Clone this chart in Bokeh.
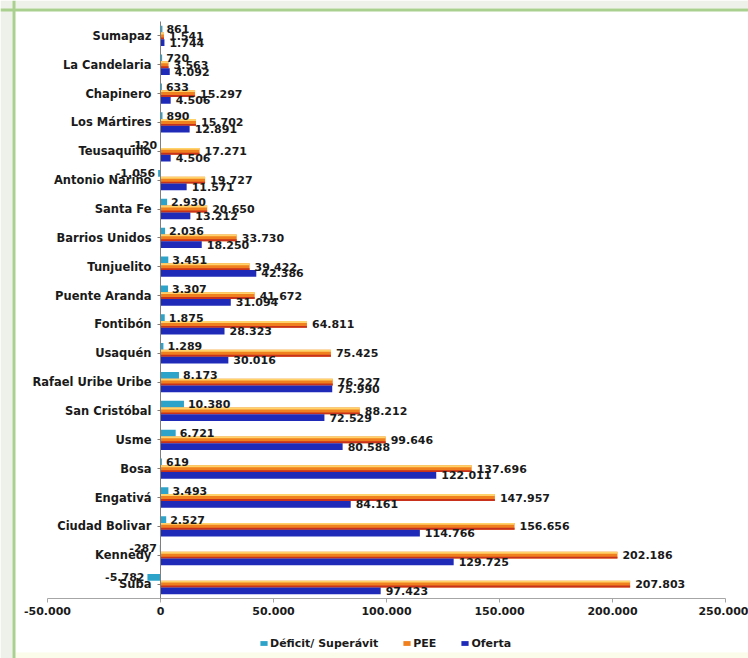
from bokeh.plotting import figure
from bokeh.models import (ColumnDataSource, Range1d, FixedTicker, BoxAnnotation, Span,
                          CustomJSTickFormatter, Legend, LegendItem)
from bokeh.transform import dodge
from bokeh.core.properties import value
from bokeh.embed import file_html
from bokeh.resources import INLINE

districts = ["Sumapaz", "La Candelaria", "Chapinero", "Los Mártires", "Teusaquillo",
             "Antonio Nariño", "Santa Fe", "Barrios Unidos", "Tunjuelito", "Puente Aranda",
             "Fontibón", "Usaquén", "Rafael Uribe Uribe", "San Cristóbal", "Usme",
             "Bosa", "Engativá", "Ciudad Bolivar", "Kennedy", "Suba"]
deficit = [861, 720, 633, 890, -120, -1056, 2930, 2036, 3451, 3307,
           1875, 1289, 8173, 10380, 6721, 619, 3493, 2527, -287, -5782]
pee = [1541, 3563, 15297, 15702, 17271, 19727, 20650, 33730, 39422, 41672,
       64811, 75425, 76227, 88212, 99646, 137696, 147957, 156656, 202186, 207803]
oferta = [1744, 4092, 4506, 12891, 4506, 11571, 13212, 18250, 42386, 31094,
          28323, 30016, 75990, 72529, 80588, 122011, 84161, 114766, 129725, 97423]
x_ticks = [-50000, 0, 50000, 100000, 150000, 200000, 250000]
legend_labels = ["Déficit/ Superávit", "PEE", "Oferta"]

W, HGT = 748, 658
# pixel layout of the plot area
PX_LEFT, PX_RIGHT = 47, 725            # x = -50000 .. 250000
PX_TOP_C, PX_BAND = 35.4, 28.85        # centre of first category, band height
n = len(districts)
ypos = [n - 1 - i for i in range(n)]   # first district on top

xu = (x_ticks[-1] - x_ticks[0]) / (PX_RIGHT - PX_LEFT)
x_start = x_ticks[0] - PX_LEFT * xu
x_end = x_ticks[-1] + (W - PX_RIGHT) * xu
y_end = (n - 1) + PX_TOP_C / PX_BAND
y_start = y_end - HGT / PX_BAND


def xpx(px):
    return x_start + px * xu


def ypx(py):
    return y_end - py / PX_BAND


def fmt(v):
    s = f"{abs(v):,}".replace(",", ".")
    return ("-" if v < 0 else "") + s


src = ColumnDataSource(dict(
    y=ypos, deficit=deficit, pee=pee, oferta=oferta,
    pee_lbl=[fmt(v) for v in pee], oferta_lbl=[fmt(v) for v in oferta]))
pos_idx = [i for i, v in enumerate(deficit) if v >= 0]
neg_idx = [i for i, v in enumerate(deficit) if v < 0]
src_dpos = ColumnDataSource(dict(y=[ypos[i] for i in pos_idx],
                                 v=[deficit[i] for i in pos_idx],
                                 lbl=[fmt(deficit[i]) for i in pos_idx]))
src_dneg = ColumnDataSource(dict(y=[ypos[i] for i in neg_idx],
                                 v=[deficit[i] for i in neg_idx],
                                 lbl=[fmt(deficit[i]) for i in neg_idx]))

FONT = "DejaVu Sans"
p = figure(x_range=Range1d(x_start, x_end), y_range=Range1d(y_start, y_end),
           width=W, height=HGT, min_border=0,
           min_border_left=0, min_border_right=0, min_border_top=0, min_border_bottom=0,
           output_backend="svg", toolbar_location=None,
           background_fill_color="white", border_fill_color="white")
p.outline_line_color = None
p.xgrid.visible = False
p.ygrid.visible = False

# chart-area frame (pale outside strip + green border), drawn under the bars
p.add_layout(BoxAnnotation(right=xpx(12), fill_color="#eef1ea", fill_alpha=1,
                           line_color=None, level="underlay"))
p.add_layout(BoxAnnotation(bottom=ypx(8), left=xpx(12), fill_color="#eef1ea", fill_alpha=1,
                           line_color=None, level="underlay"))
p.add_layout(BoxAnnotation(top=ypx(652), left=xpx(15), fill_color="#fbfce9", fill_alpha=1,
                           line_color=None, level="underlay"))
p.add_layout(Span(location=xpx(13.5), dimension="height", line_color="#a9d08e",
                  line_width=3, level="underlay"))
p.add_layout(Span(location=ypx(9.5), dimension="width", line_color="#a9d08e",
                  line_width=3, level="underlay"))

H = 0.235
r_def = p.hbar(y=dodge("y", H), left=0, right="deficit", height=H,
               fill_color="#2ea3c9", line_color=None, source=src)
r_pee = p.hbar(y="y", left=0, right="pee", height=H,
               fill_color="#f0801e", line_color=None, source=src)
p.hbar(y=dodge("y", 0.085), left=0, right="pee", height=0.065,
       fill_color="#ffd36a", line_color=None, source=src)
p.hbar(y=dodge("y", -0.085), left=0, right="pee", height=0.065,
       fill_color="#c8321c", line_color=None, source=src)
r_of = p.hbar(y=dodge("y", -H), left=0, right="oferta", height=H,
              fill_color="#1f2bb8", line_color=None, source=src)

tkw = dict(text_baseline="middle", text_font=value(FONT), text_font_style="bold",
           text_font_size="11px", text_color="#1a1a1a")
p.text(x="v", y=dodge("y", H), text="lbl", x_offset=4,
       text_align="left", source=src_dpos, **tkw)
p.text(x="v", y=dodge("y", H), text="lbl", x_offset=-3,
       text_align="right", source=src_dneg, **tkw)
p.text(x="pee", y="y", text="pee_lbl", x_offset=5,
       text_align="left", source=src, **tkw)
p.text(x="oferta", y=dodge("y", -H), text="oferta_lbl", x_offset=5,
       text_align="left", source=src, **tkw)

# x axis, fixed at the bottom edge of the last category band
p.xaxis.fixed_location = -0.5
p.xaxis.bounds = (x_ticks[0], x_ticks[-1])
p.xaxis.ticker = FixedTicker(ticks=x_ticks)
p.xaxis.formatter = CustomJSTickFormatter(code="""
const a = Math.abs(tick).toFixed(0).replace(/\\B(?=(\\d{3})+(?!\\d))/g, ".");
return (tick < 0 ? "-" : "") + a;""")
p.xaxis.minor_tick_line_color = None
p.xaxis.axis_line_color = "#a6a6a6"
p.xaxis.major_tick_line_color = "#a6a6a6"
p.xaxis.major_tick_in = 0
p.xaxis.major_tick_out = 4
p.xaxis.major_label_standoff = 5
p.xaxis.major_label_text_font = FONT
p.xaxis.major_label_text_font_style = "bold"
p.xaxis.major_label_text_font_size = "11px"
p.xaxis.major_label_text_color = "#1a1a1a"

# category axis at x = 0
p.yaxis.fixed_location = 0
p.yaxis.bounds = (-0.5, n - 0.5)
p.yaxis.ticker = FixedTicker(ticks=ypos)
p.yaxis.major_label_overrides = {y: name for y, name in zip(ypos, districts)}
p.yaxis.minor_tick_line_color = None
p.yaxis.axis_line_color = "#7f7f7f"
p.yaxis.major_tick_line_color = "#7f7f7f"
p.yaxis.major_tick_in = 0
p.yaxis.major_tick_out = 3
p.yaxis.major_label_standoff = 6
p.yaxis.major_label_text_font = FONT
p.yaxis.major_label_text_font_style = "bold"
p.yaxis.major_label_text_font_size = "11.5px"
p.yaxis.major_label_text_color = "#1a1a1a"

legend = Legend(items=[LegendItem(label=legend_labels[0], renderers=[r_def]),
                       LegendItem(label=legend_labels[1], renderers=[r_pee]),
                       LegendItem(label=legend_labels[2], renderers=[r_of])],
                orientation="horizontal", location=(259, 8),
                border_line_color=None, background_fill_alpha=0,
                label_text_font=FONT, label_text_font_style="bold",
                label_text_font_size="11px", label_text_color="#1a1a1a",
                glyph_width=9, glyph_height=6, spacing=24, margin=0, padding=3,
                label_standoff=2, label_height=14)
p.add_layout(legend, "center")

open("out.html", "w").write(file_html(p, INLINE))
